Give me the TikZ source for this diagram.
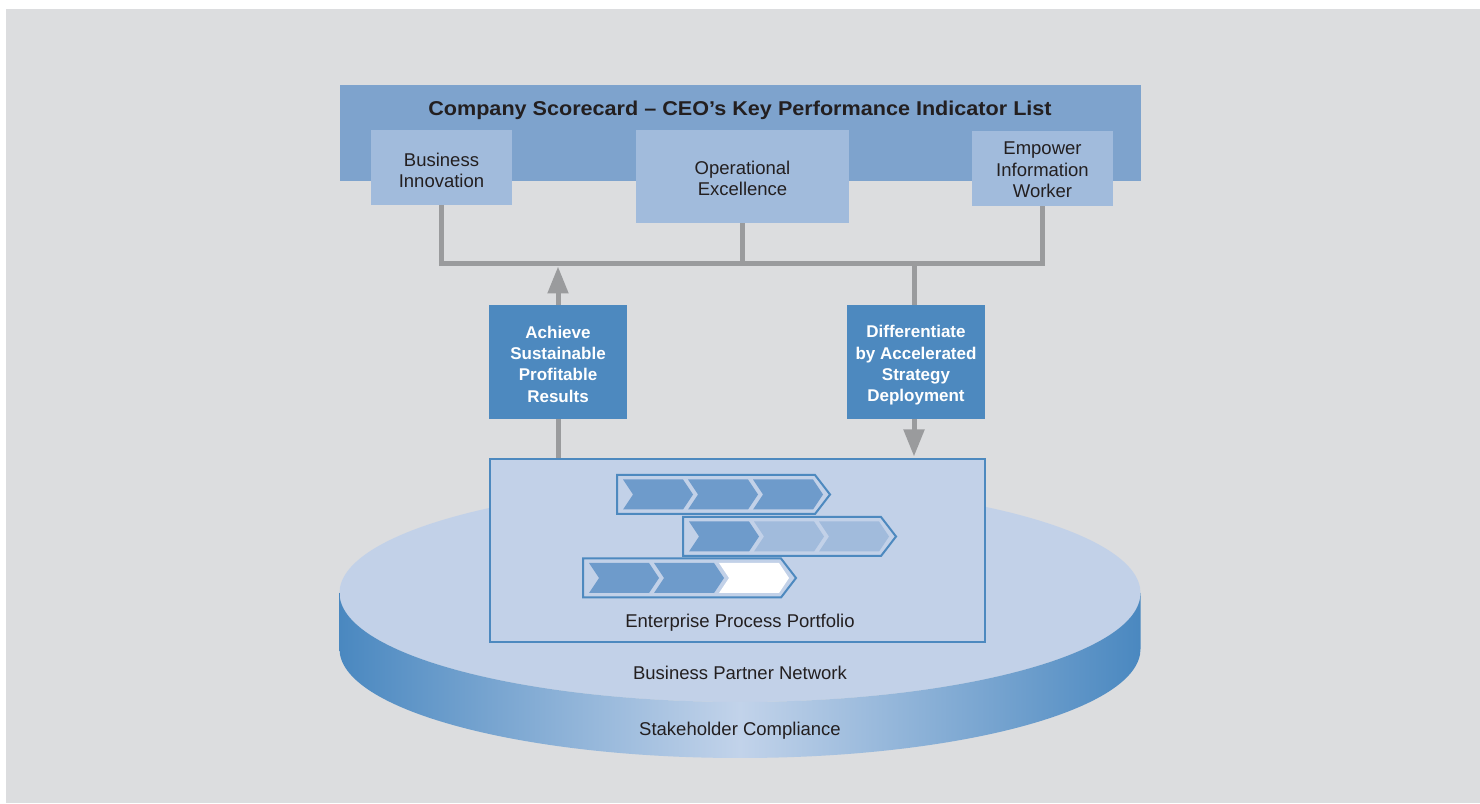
\documentclass[tikz,border=0pt]{standalone}
\usepackage{fontspec}
\setmainfont{Liberation Sans}
\newfontfamily\titlefont{Liberation Sans}[FakeStretch=1.08]
\usetikzlibrary{arrows.meta}
\definecolor{bggray}{HTML}{DCDDDF}
\definecolor{headblue}{HTML}{7EA3CD}
\definecolor{lightblue}{HTML}{A1BBDC}
\definecolor{darkblue}{HTML}{4D89BF}
\definecolor{paleblue}{HTML}{C2D1E8}
\definecolor{chevblue}{HTML}{6E9BCB}
\definecolor{sidedark}{HTML}{4A88C0}
\definecolor{sidelight}{HTML}{C2D3EA}
\definecolor{linegray}{HTML}{9A9B9D}
\definecolor{txt}{HTML}{231F20}
\newcommand\chevrow[5]{%
  \begin{scope}[shift={(#1,#2)}]
    \draw[line width=2pt, draw=darkblue, fill=paleblue, line join=miter]
      (0,19.5) -- (198,19.5) -- (213,0) -- (198,-19.5) -- (0,-19.5) -- cycle;
    \fill[#3] (6,15) -- (66,15) -- (76,0) -- (66,-15) -- (6,-15) -- (16,0) -- cycle;
    \fill[#4] (71,15) -- (131,15) -- (141,0) -- (131,-15) -- (71,-15) -- (81,0) -- cycle;
    \fill[#5] (136,15) -- (196,15) -- (206,0) -- (196,-15) -- (136,-15) -- (146,0) -- cycle;
  \end{scope}}
\tikzset{
  lbox/.style={fill=lightblue, inner sep=0pt},
  ltext/.style={inner sep=0pt, align=center, text=txt,
    font=\fontsize{18.5}{21.5}\selectfont},
  dbox/.style={fill=darkblue, inner sep=0pt,
    minimum width=138pt, minimum height=114pt},
  dtext/.style={inner sep=0pt, align=center, text=white,
    font=\fontsize{17}{21.3}\selectfont\bfseries},
  plain/.style={inner sep=0pt, text=txt, font=\fontsize{18.5}{21.5}\selectfont},
  conn/.style={draw=linegray, line width=5pt, line join=miter},
  tip/.style={-{Triangle[length=27pt,width=20pt]}}
}
\begin{document}
\begin{tikzpicture}[x=1pt,y=1pt]
\useasboundingbox (0,0) rectangle (1480,803);
\fill[white] (0,0) rectangle (1480,803);
\fill[bggray] (6,0) rectangle (1480,794);
% disk
\fill[paleblue] (740,210) ellipse[x radius=400.5, y radius=109];
\shade[left color=sidedark, right color=sidedark, middle color=sidelight]
  (339.5,210) -- (339.5,154) arc[start angle=180, end angle=360, x radius=400.5, y radius=109]
  -- (1140.5,210) arc[start angle=0, end angle=-180, x radius=400.5, y radius=109] -- cycle;
\node[plain] (bpn) at (740,130) {Business Partner Network};
\node[plain] (sc) at (740,72.5) {Stakeholder Compliance};
% portfolio
\node[draw=darkblue, line width=2.5pt, fill=paleblue, minimum width=495pt, minimum height=183pt, inner sep=0pt] (port) at (737.5,252.5) {};
\chevrow{617}{308.5}{chevblue}{chevblue}{chevblue}
\chevrow{683}{266.5}{chevblue}{lightblue}{lightblue}
\chevrow{583}{225}{chevblue}{chevblue}{white}
\node[plain] (eppl) at (740,180.5) {Enterprise Process Portfolio};
% header
\node[fill=headblue, minimum width=801pt, minimum height=96pt, inner sep=0pt] (head) at (740.5,670) {};
\node[inner sep=0pt, text=txt, font=\fontsize{20}{24}\titlefont\bfseries] (title) at (740,693) {Company Scorecard – CEO’s Key Performance Indicator List};
\node[lbox, minimum width=141pt, minimum height=75pt] (bi) at (441.5,635.5) {};
\node[ltext, yshift=-3pt] (bi-t) at (bi) {Business\\Innovation};
\node[lbox, minimum width=213pt, minimum height=93pt] (oe) at (742.5,626.5) {};
\node[ltext, yshift=-2pt] (oe-t) at (oe) {Operational\\Excellence};
\node[lbox, minimum width=141pt, minimum height=75pt] (eiw) at (1042.5,634.5) {};
\node[ltext, yshift=-1.5pt] (eiw-t) at (eiw) {Empower\\Information\\Worker};
% strategy boxes
\node[dbox] (ach) at (558,441) {};
\node[dtext, yshift=-2pt] (ach-t) at (ach) {Achieve\\Sustainable\\Profitable\\Results};
\node[dbox] (diff) at (916,441) {};
\node[dtext, yshift=-3.5pt] (diff-t) at (diff) {Differentiate\\by Accelerated\\Strategy\\Deployment};
% connectors
\coordinate (bus) at (0,539);
\coordinate (dx) at (914,0);
\draw[conn] (bi.south) -- (bi.south |- bus) -- (eiw.south |- bus) -- (eiw.south);
\draw[conn] (oe.south) -- (oe.south |- bus);
\draw[conn, tip, shorten >=2.5pt] (ach.north) -- (ach.north |- bus);
\draw[conn] (ach.south) -- (ach.south |- port.north);
\draw[conn] (dx |- bus) -- (dx |- diff.north);
\draw[conn, tip, shorten >=1.25pt] (dx |- diff.south) -- (dx |- port.north);
\end{tikzpicture}
\end{document}
